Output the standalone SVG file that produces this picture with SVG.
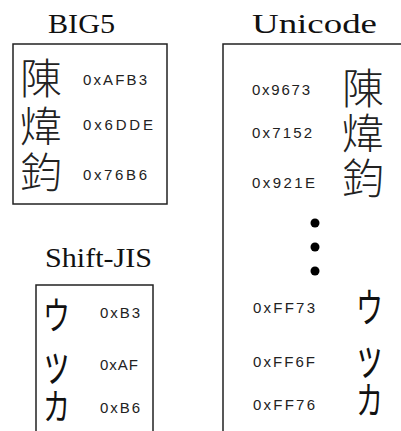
<svg xmlns="http://www.w3.org/2000/svg" width="401" height="431" viewBox="0 0 401 431">
<style>
.box{fill:#fff;stroke:#222;stroke-width:1.5}
.title{font-family:"Liberation Serif",serif;font-size:27px;fill:#111;text-anchor:middle}
.hex{font-family:"Liberation Sans",Arial,sans-serif;font-size:15px;fill:#222}
.cjk{font-family:"Noto Sans CJK TC","Noto Sans CJK SC",sans-serif;font-size:42px;font-weight:300;fill:#222}
.kana{font-family:"Noto Sans CJK JP",sans-serif;font-size:36px;fill:#111}
</style>
<rect width="401" height="431" fill="#fff"/>
<g id="big5">
<text class="title" x="81.5" y="33" textLength="67" lengthAdjust="spacingAndGlyphs">BIG5</text>
<rect class="box" x="13" y="44" width="154" height="160"/>
<text class="cjk" x="20" y="94">陳</text>
<text class="cjk" x="20" y="142">煒</text>
<text class="cjk" x="20" y="188">鈞</text>
<text class="hex" x="83" y="85" textLength="64" lengthAdjust="spacing">0xAFB3</text>
<text class="hex" x="83" y="130" textLength="70" lengthAdjust="spacing">0x6DDE</text>
<text class="hex" x="83" y="180" textLength="64" lengthAdjust="spacing">0x76B6</text>
</g>
<g id="unicode">
<text class="title" x="314.5" y="33" textLength="125" lengthAdjust="spacingAndGlyphs">Unicode</text>
<rect class="box" x="223" y="44" width="190" height="400"/>
<text class="hex" x="252" y="95" textLength="58" lengthAdjust="spacing">0x9673</text>
<text class="hex" x="252" y="138" textLength="60" lengthAdjust="spacing">0x7152</text>
<text class="hex" x="252" y="188" textLength="63" lengthAdjust="spacing">0x921E</text>
<text class="cjk" x="342" y="104">陳</text>
<text class="cjk" x="342" y="149">煒</text>
<text class="cjk" x="342" y="194">鈞</text>
<circle cx="315" cy="223" r="4.5" fill="#000"/>
<circle cx="315" cy="247" r="4.5" fill="#000"/>
<circle cx="315" cy="271" r="4.5" fill="#000"/>
<text class="hex" x="253" y="313" textLength="62" lengthAdjust="spacing">0xFF73</text>
<text class="hex" x="253" y="367" textLength="62" lengthAdjust="spacing">0xFF6F</text>
<text class="hex" x="253" y="410" textLength="62" lengthAdjust="spacing">0xFF76</text>
<text class="kana" transform="translate(356,322) scale(0.75,1.1)">ウ</text>
<text class="kana" transform="translate(354,374) scale(0.85,1.3)">ッ</text>
<text class="kana" transform="translate(356,414) scale(0.75,1.05)">カ</text>
</g>
<g id="shiftjis">
<text class="title" x="98.5" y="267" textLength="107" lengthAdjust="spacingAndGlyphs">Shift-JIS</text>
<rect class="box" x="36" y="285" width="117" height="160"/>
<text class="kana" transform="translate(43,329) scale(0.75,1.05)">ウ</text>
<text class="kana" transform="translate(41,380) scale(0.85,1.3)">ッ</text>
<text class="kana" transform="translate(43,420) scale(0.75,1.0)">カ</text>
<text class="hex" x="100" y="318" textLength="40" lengthAdjust="spacing">0xB3</text>
<text class="hex" x="100" y="370" textLength="38" lengthAdjust="spacing">0xAF</text>
<text class="hex" x="100" y="413" textLength="40" lengthAdjust="spacing">0xB6</text>
</g>
<g id="connectors"></g>
</svg>
